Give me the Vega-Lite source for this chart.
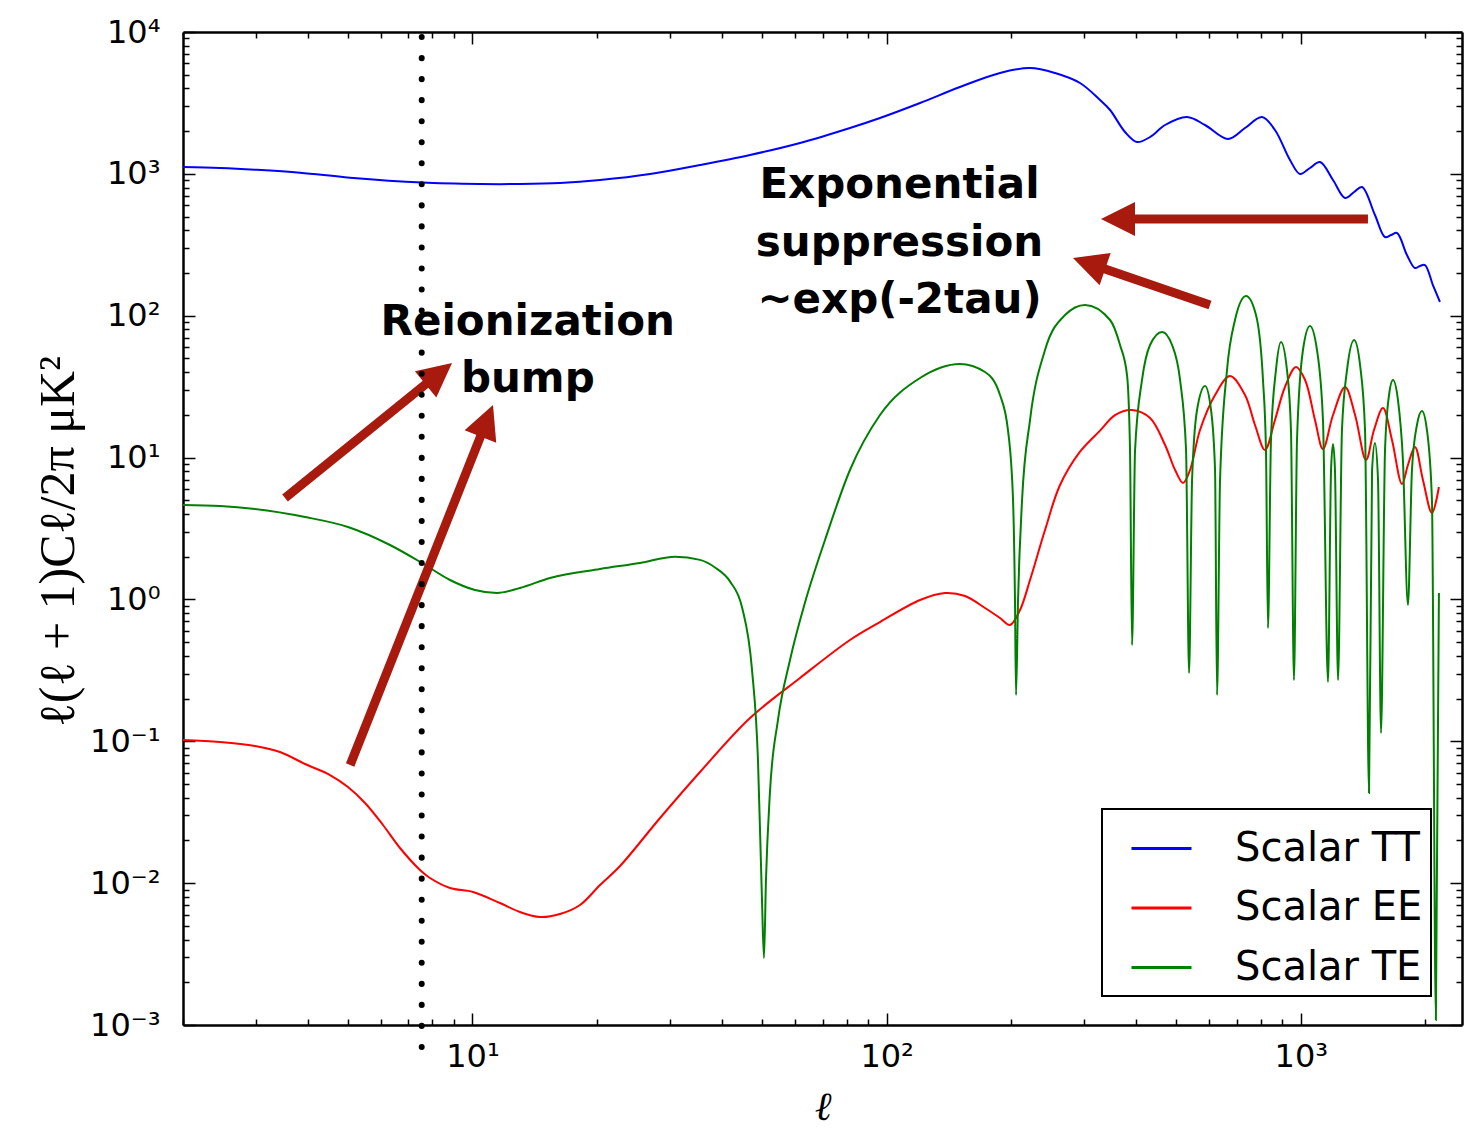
{
  "$schema": "https://vega.github.io/schema/vega-lite/v6.json",
  "width": 1279,
  "height": 993,
  "autosize": {"type": "none"},
  "padding": {"left": 183, "top": 32, "right": 6, "bottom": 106},
  "background": "white",
  "config": {
    "view": {"stroke": null},
    "font": "DejaVu Sans",
    "axis": {
      "grid": false,
      "domainColor": "black",
      "domainWidth": 2.5,
      "tickColor": "black",
      "tickWidth": 1.5,
      "labelFont": "DejaVu Sans",
      "labelFontSize": 32,
      "labelColor": "black",
      "labelOverlap": false,
      "labelFlush": false,
      "labelBound": false,
      "titleColor": "black",
      "titleFontWeight": "normal"
    }
  },
  "datasets": {
    "spectra": [
      {"series": "Scalar TT", "ell": 2, "value": 1118},
      {"series": "Scalar TT", "ell": 2.457, "value": 1100},
      {"series": "Scalar TT", "ell": 2.985, "value": 1070},
      {"series": "Scalar TT", "ell": 3.833, "value": 1020},
      {"series": "Scalar TT", "ell": 5.061, "value": 940},
      {"series": "Scalar TT", "ell": 7.553, "value": 868},
      {"series": "Scalar TT", "ell": 10.43, "value": 848.1},
      {"series": "Scalar TT", "ell": 13.02, "value": 848.1},
      {"series": "Scalar TT", "ell": 16.27, "value": 862},
      {"series": "Scalar TT", "ell": 20.32, "value": 904.8},
      {"series": "Scalar TT", "ell": 26.84, "value": 997.7},
      {"series": "Scalar TT", "ell": 35.43, "value": 1155},
      {"series": "Scalar TT", "ell": 46.78, "value": 1358},
      {"series": "Scalar TT", "ell": 61.77, "value": 1650},
      {"series": "Scalar TT", "ell": 81.55, "value": 2105},
      {"series": "Scalar TT", "ell": 96.36, "value": 2476},
      {"series": "Scalar TT", "ell": 120.4, "value": 3159},
      {"series": "Scalar TT", "ell": 150.3, "value": 4095},
      {"series": "Scalar TT", "ell": 187.8, "value": 5140},
      {"series": "Scalar TT", "ell": 221.9, "value": 5574},
      {"series": "Scalar TT", "ell": 255, "value": 5140},
      {"series": "Scalar TT", "ell": 293, "value": 4371},
      {"series": "Scalar TT", "ell": 327.5, "value": 3316},
      {"series": "Scalar TT", "ell": 346.3, "value": 2819},
      {"series": "Scalar TT", "ell": 376.3, "value": 1973},
      {"series": "Scalar TT", "ell": 402.3, "value": 1677},
      {"series": "Scalar TT", "ell": 432.5, "value": 1819},
      {"series": "Scalar TT", "ell": 470.1, "value": 2210},
      {"series": "Scalar TT", "ell": 531.3, "value": 2517},
      {"series": "Scalar TT", "ell": 587.1, "value": 2210},
      {"series": "Scalar TT", "ell": 667.1, "value": 1761},
      {"series": "Scalar TT", "ell": 733.2, "value": 2105},
      {"series": "Scalar TT", "ell": 805.8, "value": 2517},
      {"series": "Scalar TT", "ell": 866.1, "value": 2038},
      {"series": "Scalar TT", "ell": 941.5, "value": 1252},
      {"series": "Scalar TT", "ell": 995.5, "value": 997.7},
      {"series": "Scalar TT", "ell": 1052, "value": 1100},
      {"series": "Scalar TT", "ell": 1113, "value": 1212},
      {"series": "Scalar TT", "ell": 1196, "value": 904.8},
      {"series": "Scalar TT", "ell": 1279, "value": 675.8},
      {"series": "Scalar TT", "ell": 1345, "value": 744.9},
      {"series": "Scalar TT", "ell": 1405, "value": 807.9},
      {"series": "Scalar TT", "ell": 1510, "value": 512.9},
      {"series": "Scalar TT", "ell": 1597, "value": 358.7},
      {"series": "Scalar TT", "ell": 1651, "value": 370.6},
      {"series": "Scalar TT", "ell": 1707, "value": 382.9},
      {"series": "Scalar TT", "ell": 1804, "value": 267.9},
      {"series": "Scalar TT", "ell": 1886, "value": 216.9},
      {"series": "Scalar TT", "ell": 1939, "value": 224.1},
      {"series": "Scalar TT", "ell": 1994, "value": 227.7},
      {"series": "Scalar TT", "ell": 2084, "value": 164.6},
      {"series": "Scalar TT", "ell": 2167, "value": 125},

      {"series": "Scalar EE", "ell": 2, "value": 0.1021},
      {"series": "Scalar EE", "ell": 2.457, "value": 0.09884},
      {"series": "Scalar EE", "ell": 2.985, "value": 0.09264},
      {"series": "Scalar EE", "ell": 3.43, "value": 0.08406},
      {"series": "Scalar EE", "ell": 3.942, "value": 0.06916},
      {"series": "Scalar EE", "ell": 4.53, "value": 0.05784},
      {"series": "Scalar EE", "ell": 5.005, "value": 0.04761},
      {"series": "Scalar EE", "ell": 5.502, "value": 0.03672},
      {"series": "Scalar EE", "ell": 6.08, "value": 0.0257},
      {"series": "Scalar EE", "ell": 6.683, "value": 0.01769},
      {"series": "Scalar EE", "ell": 7.469, "value": 0.01238},
      {"series": "Scalar EE", "ell": 7.896, "value": 0.01087},
      {"series": "Scalar EE", "ell": 8.826, "value": 0.00924},
      {"series": "Scalar EE", "ell": 10.03, "value": 0.00866},
      {"series": "Scalar EE", "ell": 11.65, "value": 0.007245},
      {"series": "Scalar EE", "ell": 13.02, "value": 0.006262},
      {"series": "Scalar EE", "ell": 14.56, "value": 0.005772},
      {"series": "Scalar EE", "ell": 16.27, "value": 0.00606},
      {"series": "Scalar EE", "ell": 18.18, "value": 0.007013},
      {"series": "Scalar EE", "ell": 20.32, "value": 0.009702},
      {"series": "Scalar EE", "ell": 22.71, "value": 0.01321},
      {"series": "Scalar EE", "ell": 28.37, "value": 0.02878},
      {"series": "Scalar EE", "ell": 35.43, "value": 0.06073},
      {"series": "Scalar EE", "ell": 46.78, "value": 0.1459},
      {"series": "Scalar EE", "ell": 61.77, "value": 0.2794},
      {"series": "Scalar EE", "ell": 81.55, "value": 0.5176},
      {"series": "Scalar EE", "ell": 96.36, "value": 0.6931},
      {"series": "Scalar EE", "ell": 120.4, "value": 0.9907},
      {"series": "Scalar EE", "ell": 138.3, "value": 1.11},
      {"series": "Scalar EE", "ell": 154.6, "value": 1.057},
      {"series": "Scalar EE", "ell": 172.8, "value": 0.87},
      {"series": "Scalar EE", "ell": 187.8, "value": 0.7397},
      {"series": "Scalar EE", "ell": 198.5, "value": 0.6603},
      {"series": "Scalar EE", "ell": 209.9, "value": 0.8423},
      {"series": "Scalar EE", "ell": 221.9, "value": 1.371},
      {"series": "Scalar EE", "ell": 241.2, "value": 3.086},
      {"series": "Scalar EE", "ell": 262.2, "value": 6.406},
      {"series": "Scalar EE", "ell": 293, "value": 11.0},
      {"series": "Scalar EE", "ell": 327.5, "value": 15.5},
      {"series": "Scalar EE", "ell": 356, "value": 19.95},
      {"series": "Scalar EE", "ell": 391.3, "value": 21.64},
      {"series": "Scalar EE", "ell": 432.5, "value": 19.01},
      {"series": "Scalar EE", "ell": 470.1, "value": 12.26},
      {"series": "Scalar EE", "ell": 497.1, "value": 8.175},
      {"series": "Scalar EE", "ell": 519.6, "value": 6.618},
      {"series": "Scalar EE", "ell": 540.2, "value": 8.175},
      {"series": "Scalar EE", "ell": 571, "value": 15.64},
      {"series": "Scalar EE", "ell": 620.7, "value": 27.61},
      {"series": "Scalar EE", "ell": 674.5, "value": 37.58},
      {"series": "Scalar EE", "ell": 733.2, "value": 27.61},
      {"series": "Scalar EE", "ell": 775, "value": 16.97},
      {"series": "Scalar EE", "ell": 819.4, "value": 11.31},
      {"series": "Scalar EE", "ell": 866.1, "value": 18.4},
      {"series": "Scalar EE", "ell": 915.6, "value": 31.44},
      {"series": "Scalar EE", "ell": 973.4, "value": 43.5},
      {"series": "Scalar EE", "ell": 1024, "value": 35.23},
      {"series": "Scalar EE", "ell": 1082, "value": 18.4},
      {"series": "Scalar EE", "ell": 1131, "value": 11.49},
      {"series": "Scalar EE", "ell": 1196, "value": 19.95},
      {"series": "Scalar EE", "ell": 1279, "value": 31.44},
      {"series": "Scalar EE", "ell": 1352, "value": 19.95},
      {"series": "Scalar EE", "ell": 1437, "value": 9.613},
      {"series": "Scalar EE", "ell": 1502, "value": 15.64},
      {"series": "Scalar EE", "ell": 1579, "value": 22.36},
      {"series": "Scalar EE", "ell": 1660, "value": 13.31},
      {"series": "Scalar EE", "ell": 1755, "value": 6.511},
      {"series": "Scalar EE", "ell": 1814, "value": 8.865},
      {"series": "Scalar EE", "ell": 1886, "value": 11.87},
      {"series": "Scalar EE", "ell": 1972, "value": 6.948},
      {"series": "Scalar EE", "ell": 2073, "value": 4.067},
      {"series": "Scalar EE", "ell": 2155, "value": 6.202},

      {"series": "Scalar TE", "ell": 2, "value": 4.63},
      {"series": "Scalar TE", "ell": 2.457, "value": 4.556},
      {"series": "Scalar TE", "ell": 2.985, "value": 4.34},
      {"series": "Scalar TE", "ell": 3.942, "value": 3.811},
      {"series": "Scalar TE", "ell": 5.005, "value": 3.24},
      {"series": "Scalar TE", "ell": 6.321, "value": 2.419},
      {"series": "Scalar TE", "ell": 7.553, "value": 1.806},
      {"series": "Scalar TE", "ell": 8.826, "value": 1.371},
      {"series": "Scalar TE", "ell": 10.14, "value": 1.165},
      {"series": "Scalar TE", "ell": 11.46, "value": 1.11},
      {"series": "Scalar TE", "ell": 13.02, "value": 1.204},
      {"series": "Scalar TE", "ell": 15.39, "value": 1.416},
      {"series": "Scalar TE", "ell": 20.32, "value": 1.639},
      {"series": "Scalar TE", "ell": 25.38, "value": 1.806},
      {"series": "Scalar TE", "ell": 30.83, "value": 2.0},
      {"series": "Scalar TE", "ell": 35.43, "value": 1.9},
      {"series": "Scalar TE", "ell": 38.51, "value": 1.68},
      {"series": "Scalar TE", "ell": 41.85, "value": 1.34},
      {"series": "Scalar TE", "ell": 44.75, "value": 0.88},
      {"series": "Scalar TE", "ell": 47.3, "value": 0.32},
      {"series": "Scalar TE", "ell": 48.9, "value": 0.0738},
      {"series": "Scalar TE", "ell": 50, "value": 0.0076},
      {"series": "Scalar TE", "ell": 50.56, "value": 0.002967},
      {"series": "Scalar TE", "ell": 51.12, "value": 0.0105},
      {"series": "Scalar TE", "ell": 52.25, "value": 0.0432},
      {"series": "Scalar TE", "ell": 54.65, "value": 0.1413},
      {"series": "Scalar TE", "ell": 58.43, "value": 0.3741},
      {"series": "Scalar TE", "ell": 63.51, "value": 0.95},
      {"series": "Scalar TE", "ell": 70.98, "value": 2.624},
      {"series": "Scalar TE", "ell": 81.55, "value": 8.175},
      {"series": "Scalar TE", "ell": 96.36, "value": 19.95},
      {"series": "Scalar TE", "ell": 120.4, "value": 36.38},
      {"series": "Scalar TE", "ell": 150.3, "value": 45.66},
      {"series": "Scalar TE", "ell": 172.8, "value": 40.11},
      {"series": "Scalar TE", "ell": 187.8, "value": 27.61},
      {"series": "Scalar TE", "ell": 196.3, "value": 15.64},
      {"series": "Scalar TE", "ell": 201.9, "value": 5.022},
      {"series": "Scalar TE", "ell": 204.1, "value": 0.9907},
      {"series": "Scalar TE", "ell": 205.3, "value": 0.212},
      {"series": "Scalar TE", "ell": 207.6, "value": 0.9907},
      {"series": "Scalar TE", "ell": 212.3, "value": 5.022},
      {"series": "Scalar TE", "ell": 221.9, "value": 18.4},
      {"series": "Scalar TE", "ell": 241.2, "value": 57.31},
      {"series": "Scalar TE", "ell": 269.6, "value": 101.2},
      {"series": "Scalar TE", "ell": 301.3, "value": 119},
      {"series": "Scalar TE", "ell": 346.3, "value": 93.27},
      {"series": "Scalar TE", "ell": 366, "value": 62.15},
      {"series": "Scalar TE", "ell": 380.5, "value": 38.19},
      {"series": "Scalar TE", "ell": 386.9, "value": 11.31},
      {"series": "Scalar TE", "ell": 391.3, "value": 0.4773},
      {"series": "Scalar TE", "ell": 397.9, "value": 11.31},
      {"series": "Scalar TE", "ell": 413.6, "value": 35.23},
      {"series": "Scalar TE", "ell": 432.5, "value": 62.15},
      {"series": "Scalar TE", "ell": 462.4, "value": 76.76},
      {"series": "Scalar TE", "ell": 488.8, "value": 62.15},
      {"series": "Scalar TE", "ell": 511, "value": 35.23},
      {"series": "Scalar TE", "ell": 528.3, "value": 11.31},
      {"series": "Scalar TE", "ell": 537.2, "value": 0.3029},
      {"series": "Scalar TE", "ell": 546.3, "value": 6.948},
      {"series": "Scalar TE", "ell": 561.6, "value": 21.64},
      {"series": "Scalar TE", "ell": 587.1, "value": 31.95},
      {"series": "Scalar TE", "ell": 607, "value": 21.64},
      {"series": "Scalar TE", "ell": 620.7, "value": 8.175},
      {"series": "Scalar TE", "ell": 627.6, "value": 0.212},
      {"series": "Scalar TE", "ell": 638.2, "value": 6.948},
      {"series": "Scalar TE", "ell": 663.4, "value": 41.44},
      {"series": "Scalar TE", "ell": 693.5, "value": 93.27},
      {"series": "Scalar TE", "ell": 737.3, "value": 137.7},
      {"series": "Scalar TE", "ell": 779.4, "value": 101.2},
      {"series": "Scalar TE", "ell": 810.3, "value": 35.23},
      {"series": "Scalar TE", "ell": 823.9, "value": 11.31},
      {"series": "Scalar TE", "ell": 833.1, "value": 0.629},
      {"series": "Scalar TE", "ell": 847.1, "value": 13.31},
      {"series": "Scalar TE", "ell": 870.9, "value": 41.44},
      {"series": "Scalar TE", "ell": 895.5, "value": 65.25},
      {"series": "Scalar TE", "ell": 925.9, "value": 41.44},
      {"series": "Scalar TE", "ell": 946.7, "value": 15.64},
      {"series": "Scalar TE", "ell": 962.6, "value": 0.2704},
      {"series": "Scalar TE", "ell": 979, "value": 13.31},
      {"series": "Scalar TE", "ell": 1012, "value": 57.31},
      {"series": "Scalar TE", "ell": 1052, "value": 84.63},
      {"series": "Scalar TE", "ell": 1094, "value": 57.31},
      {"series": "Scalar TE", "ell": 1131, "value": 18.4},
      {"series": "Scalar TE", "ell": 1163, "value": 0.2617},
      {"series": "Scalar TE", "ell": 1183, "value": 8.175},
      {"series": "Scalar TE", "ell": 1196, "value": 12.46},
      {"series": "Scalar TE", "ell": 1209, "value": 8.175},
      {"series": "Scalar TE", "ell": 1230, "value": 0.2704},
      {"series": "Scalar TE", "ell": 1257, "value": 15.64},
      {"series": "Scalar TE", "ell": 1293, "value": 41.44},
      {"series": "Scalar TE", "ell": 1345, "value": 67.4},
      {"series": "Scalar TE", "ell": 1390, "value": 44.93},
      {"series": "Scalar TE", "ell": 1429, "value": 15.64},
      {"series": "Scalar TE", "ell": 1461, "value": 0.0432},
      {"series": "Scalar TE", "ell": 1486, "value": 8.175},
      {"series": "Scalar TE", "ell": 1510, "value": 12.67},
      {"series": "Scalar TE", "ell": 1536, "value": 6.948},
      {"series": "Scalar TE", "ell": 1562, "value": 0.1144},
      {"series": "Scalar TE", "ell": 1597, "value": 11.31},
      {"series": "Scalar TE", "ell": 1633, "value": 27.61},
      {"series": "Scalar TE", "ell": 1669, "value": 35.23},
      {"series": "Scalar TE", "ell": 1716, "value": 25.46},
      {"series": "Scalar TE", "ell": 1764, "value": 9.613},
      {"series": "Scalar TE", "ell": 1814, "value": 0.9135},
      {"series": "Scalar TE", "ell": 1855, "value": 8.175},
      {"series": "Scalar TE", "ell": 1907, "value": 16.97},
      {"series": "Scalar TE", "ell": 1961, "value": 21.29},
      {"series": "Scalar TE", "ell": 2016, "value": 15.64},
      {"series": "Scalar TE", "ell": 2073, "value": 5.022},
      {"series": "Scalar TE", "ell": 2119, "value": 0.001084},
      {"series": "Scalar TE", "ell": 2155, "value": 1.11}
    ],
    "arrows": [
      {"arrow": "a1", "ell": 3.527, "value": 5.188, "ell2": 8.183, "value2": 37.83, "tipEll": 8.925, "tipValue": 46.42},
      {"arrow": "a2", "ell": 5.065, "value": 0.06805, "ell2": 10.756, "value2": 17.36, "tipEll": 11.208, "tipValue": 23.48},
      {"arrow": "a3", "ell": 1452.5, "value": 480.6, "ell2": 367.9, "value2": 480.6, "tipEll": 329.3, "tipValue": 480.6},
      {"arrow": "a4", "ell": 603.5, "value": 119.0, "ell2": 313.0, "value2": 229.6, "tipEll": 281.8, "tipValue": 255.2}
    ],
    "notes": [
      {"ell": 13.6, "value": 73.11, "label": "Reionization"},
      {"ell": 13.6, "value": 28.99, "label": "bump"},
      {"ell": 107.4, "value": 675.8, "label": "Exponential"},
      {"ell": 107.4, "value": 263.6, "label": "suppression"},
      {"ell": 107.4, "value": 104.5, "label": "~exp(-2tau)"}
    ],
    "reionization": [
      {"ell": 7.54, "top": 9222, "bottom": 0.0007}
    ]
  },
  "layer": [
    {
      "encoding": {
        "x": {
          "field": "ell",
          "type": "quantitative",
          "scale": {"type": "log", "domain": [2, 2450]},
          "axis": {
            "orient": "bottom",
            "title": "ℓ",
            "titleFont": "DejaVu Serif",
            "titleFontStyle": "italic",
            "titleFontSize": 40,
            "titlePadding": 9,
            "values": [2, 3, 4, 5, 6, 7, 8, 9, 10, 20, 30, 40, 50, 60, 70, 80, 90, 100, 200, 300, 400, 500, 600, 700, 800, 900, 1000, 2000],
            "labelExpr": "abs(log(datum.value)/LN10 - round(log(datum.value)/LN10)) < 0.01 ? ['10⁻³','10⁻²','10⁻¹','10⁰','10¹','10²','10³','10⁴'][round(log(datum.value)/LN10)+3] : ''",
            "labelPadding": 28,
            "tickSize": {"condition": {"test": "abs(log(datum.value)/LN10 - round(log(datum.value)/LN10)) < 0.01", "value": -12}, "value": -6}
          }
        },
        "y": {
          "field": "value",
          "type": "quantitative",
          "scale": {"type": "log", "domain": [0.001, 10000]},
          "axis": {
            "orient": "left",
            "title": "ℓ(ℓ + 1)Cℓ/2π μK²",
            "titleFont": "Liberation Serif",
            "titleFontSize": 50,
            "titlePadding": 6,
            "titleY": 509,
            "values": [0.001, 0.002, 0.003, 0.004, 0.005, 0.006, 0.007, 0.008, 0.009, 0.01, 0.02, 0.03, 0.04, 0.05, 0.06, 0.07, 0.08, 0.09, 0.1, 0.2, 0.3, 0.4, 0.5, 0.6, 0.7, 0.8, 0.9, 1, 2, 3, 4, 5, 6, 7, 8, 9, 10, 20, 30, 40, 50, 60, 70, 80, 90, 100, 200, 300, 400, 500, 600, 700, 800, 900, 1000, 2000, 3000, 4000, 5000, 6000, 7000, 8000, 9000, 10000],
            "labelExpr": "abs(log(datum.value)/LN10 - round(log(datum.value)/LN10)) < 0.01 ? ['10⁻³','10⁻²','10⁻¹','10⁰','10¹','10²','10³','10⁴'][round(log(datum.value)/LN10)+3] : ''",
            "labelPadding": 35,
            "tickSize": {"condition": {"test": "abs(log(datum.value)/LN10 - round(log(datum.value)/LN10)) < 0.01", "value": -12}, "value": -6}
          }
        }
      },
      "layer": [
        {
          "data": {"name": "spectra"},
          "transform": [{"filter": "datum.series !== 'Scalar TE'"}],
          "mark": {"type": "line", "strokeWidth": 2, "interpolate": "catmull-rom"},
          "encoding": {
            "color": {
              "field": "series",
              "type": "nominal",
              "scale": {"domain": ["Scalar TT", "Scalar EE", "Scalar TE"], "range": ["#0000ff", "#ff0000", "#008000"]},
              "legend": {
                "orient": "none",
                "legendX": 919,
                "legendY": 777,
                "title": null,
                "symbolType": "stroke",
                "symbolSize": 3600,
                "symbolStrokeWidth": 3,
                "symbolOffset": 20,
                "labelOffset": 42,
                "labelFont": "DejaVu Sans",
                "labelFontSize": 40,
                "labelColor": "black",
                "labelLimit": 0,
                "strokeColor": "black",
                "fillColor": "white",
                "padding": 8,
                "rowPadding": 7.5,
                "cornerRadius": 0,
                "encode": {"legend": {"update": {"strokeWidth": {"value": 2}}}}
              }
            }
          }
        },
        {
          "data": {"name": "spectra"},
          "transform": [{"filter": "datum.series === 'Scalar TE'"}],
          "mark": {"type": "line", "strokeWidth": 2, "interpolate": "monotone"},
          "encoding": {
            "color": {"field": "series", "type": "nominal"}
          }
        },
        {
          "data": {"name": "arrows"},
          "mark": {"type": "rule", "color": "#a8190e", "strokeWidth": 9, "strokeCap": "butt"},
          "encoding": {
            "x2": {"field": "ell2"},
            "y2": {"field": "value2"}
          }
        },
        {
          "data": {"name": "arrows"},
          "transform": [{"filter": "datum.arrow === 'a1'"}],
          "mark": {"type": "point", "shape": "M0,0L-1,2L1,2Z", "size": 1156, "filled": true, "opacity": 1, "color": "#a8190e", "angle": 51},
          "encoding": {
            "x": {"field": "tipEll", "type": "quantitative"},
            "y": {"field": "tipValue", "type": "quantitative"}
          }
        },
        {
          "data": {"name": "arrows"},
          "transform": [{"filter": "datum.arrow === 'a2'"}],
          "mark": {"type": "point", "shape": "M0,0L-1,2L1,2Z", "size": 1156, "filled": true, "opacity": 1, "color": "#a8190e", "angle": 21.7},
          "encoding": {
            "x": {"field": "tipEll", "type": "quantitative"},
            "y": {"field": "tipValue", "type": "quantitative"}
          }
        },
        {
          "data": {"name": "arrows"},
          "transform": [{"filter": "datum.arrow === 'a3'"}],
          "mark": {"type": "point", "shape": "M0,0L-1,2L1,2Z", "size": 1156, "filled": true, "opacity": 1, "color": "#a8190e", "angle": -90},
          "encoding": {
            "x": {"field": "tipEll", "type": "quantitative"},
            "y": {"field": "tipValue", "type": "quantitative"}
          }
        },
        {
          "data": {"name": "arrows"},
          "transform": [{"filter": "datum.arrow === 'a4'"}],
          "mark": {"type": "point", "shape": "M0,0L-1,2L1,2Z", "size": 1156, "filled": true, "opacity": 1, "color": "#a8190e", "angle": -71},
          "encoding": {
            "x": {"field": "tipEll", "type": "quantitative"},
            "y": {"field": "tipValue", "type": "quantitative"}
          }
        },
        {
          "data": {"name": "notes"},
          "mark": {"type": "text", "font": "DejaVu Sans", "fontWeight": "bold", "fontSize": 42, "align": "center", "baseline": "alphabetic", "color": "black"},
          "encoding": {
            "text": {"field": "label"}
          }
        }
      ]
    },
    {
      "data": {"name": "reionization"},
      "mark": {"type": "rule", "color": "black", "strokeWidth": 6, "strokeDash": [0.1, 20.94], "strokeCap": "round", "clip": false},
      "encoding": {
        "x": {
          "field": "ell",
          "type": "quantitative",
          "scale": {"type": "log", "domain": [2, 2450]},
          "axis": {
            "orient": "top",
            "title": null,
            "labels": false,
            "values": [2, 3, 4, 5, 6, 7, 8, 9, 10, 20, 30, 40, 50, 60, 70, 80, 90, 100, 200, 300, 400, 500, 600, 700, 800, 900, 1000, 2000],
            "tickSize": {"condition": {"test": "abs(log(datum.value)/LN10 - round(log(datum.value)/LN10)) < 0.01", "value": -12}, "value": -6}
          }
        },
        "y": {
          "field": "top",
          "type": "quantitative",
          "scale": {"type": "log", "domain": [0.001, 10000]},
          "axis": {
            "orient": "right",
            "title": null,
            "labels": false,
            "values": [0.001, 0.002, 0.003, 0.004, 0.005, 0.006, 0.007, 0.008, 0.009, 0.01, 0.02, 0.03, 0.04, 0.05, 0.06, 0.07, 0.08, 0.09, 0.1, 0.2, 0.3, 0.4, 0.5, 0.6, 0.7, 0.8, 0.9, 1, 2, 3, 4, 5, 6, 7, 8, 9, 10, 20, 30, 40, 50, 60, 70, 80, 90, 100, 200, 300, 400, 500, 600, 700, 800, 900, 1000, 2000, 3000, 4000, 5000, 6000, 7000, 8000, 9000, 10000],
            "tickSize": {"condition": {"test": "abs(log(datum.value)/LN10 - round(log(datum.value)/LN10)) < 0.01", "value": -12}, "value": -6}
          }
        },
        "y2": {"field": "bottom"}
      }
    }
  ],
  "resolve": {"scale": {"x": "independent", "y": "independent"}}
}
